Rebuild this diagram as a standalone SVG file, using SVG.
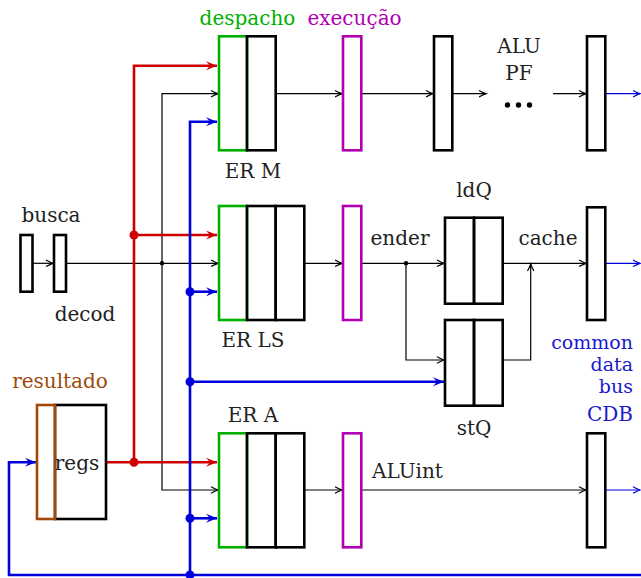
<svg xmlns="http://www.w3.org/2000/svg" width="641" height="578" viewBox="0 0 641 578">
<style>
text{font-family:"DejaVu Serif","Liberation Serif",serif;font-size:20px;fill:#222}
.c{text-anchor:middle}
.cdb{fill:#1a1acc;text-anchor:end;font-size:19px}
.box{fill:none;stroke:#000;stroke-width:2.6}
.g{fill:none;stroke:#00b000;stroke-width:2.6}
.m{fill:none;stroke:#b000b0;stroke-width:2.6}
.br{fill:none;stroke:#a04a0a;stroke-width:2.6}
.thin{fill:none;stroke:#000;stroke-width:1.2}
.red{fill:none;stroke:#d00000;stroke-width:2.6}
.blue{fill:none;stroke:#0000dd;stroke-width:2.6}
.bthin{fill:none;stroke:#0000dd;stroke-width:1.2}
</style>
<defs>
<marker id="ak" markerUnits="userSpaceOnUse" markerWidth="12" markerHeight="10" refX="0" refY="0" viewBox="-8 -5 10 10" orient="auto"><path d="M-7,-3.2 Q-2.5,-0.7 0,0 Q-2.5,0.7 -7,3.2" fill="none" stroke="#000" stroke-width="1.2"/></marker>
<marker id="ab" markerUnits="userSpaceOnUse" markerWidth="12" markerHeight="10" refX="0" refY="0" viewBox="-8 -5 10 10" orient="auto"><path d="M-7,-3.2 Q-2.5,-0.7 0,0 Q-2.5,0.7 -7,3.2" fill="none" stroke="#0000dd" stroke-width="1.2"/></marker>
<marker id="ar" markerUnits="userSpaceOnUse" markerWidth="14" markerHeight="12" refX="0" refY="0" viewBox="-12 -6 14 12" orient="auto"><path d="M0,0 L-11,-4.5 L-7,0 L-11,4.5 Z" fill="#d00000"/></marker>
<marker id="abl" markerUnits="userSpaceOnUse" markerWidth="14" markerHeight="12" refX="0" refY="0" viewBox="-12 -6 14 12" orient="auto"><path d="M0,0 L-11,-4.5 L-7,0 L-11,4.5 Z" fill="#0000dd"/></marker>
</defs>

<g id="connectors">
<path class="thin" d="M32,263.3 H53" marker-end="url(#ak)"/>
<path class="thin" d="M66,263.3 H218" marker-end="url(#ak)"/>
<path class="thin" d="M162,263.3 V93.7 H218" marker-end="url(#ak)"/>
<path class="thin" d="M162,263.3 V490 H218" marker-end="url(#ak)"/>
<path class="thin" d="M276,93.7 H342" marker-end="url(#ak)"/>
<path class="thin" d="M361,93.7 H433" marker-end="url(#ak)"/>
<path class="thin" d="M452,93.7 H486" marker-end="url(#ak)"/>
<path class="thin" d="M553,93.7 H586" marker-end="url(#ak)"/>
<path class="thin" d="M304,263.3 H342" marker-end="url(#ak)"/>
<path class="thin" d="M361,263.3 H444" marker-end="url(#ak)"/>
<path class="thin" d="M406,263.3 V360 H444" marker-end="url(#ak)"/>
<path class="thin" d="M503,360 H530.7 V264" marker-end="url(#ak)"/>
<path class="thin" d="M503,263.3 H586" marker-end="url(#ak)"/>
<path class="thin" d="M304,490 H342" marker-end="url(#ak)"/>
<path class="thin" d="M361,490 H586" marker-end="url(#ak)"/>
<circle cx="162" cy="263.3" r="2.2" fill="#000"/>
<circle cx="406" cy="263.3" r="2.2" fill="#000"/>
<path class="bthin" d="M605,93.7 H640" marker-end="url(#ab)"/>
<path class="bthin" d="M605,263.3 H640" marker-end="url(#ab)"/>
<path class="bthin" d="M605,490 H640" marker-end="url(#ab)"/>
<path class="red" d="M106,462.3 H217" marker-end="url(#ar)"/>
<path class="red" d="M134,462.3 V65.7 H217" marker-end="url(#ar)"/>
<path class="red" d="M134,235 H217" marker-end="url(#ar)"/>
<circle cx="134" cy="462.3" r="4.5" fill="#d00000"/>
<circle cx="134" cy="235" r="4.5" fill="#d00000"/>
<path class="blue" d="M641,575 H9 V462.3 H36" marker-end="url(#abl)"/>
<path class="blue" d="M190,575 V121.7 H217" marker-end="url(#abl)"/>
<path class="blue" d="M190,291.7 H217" marker-end="url(#abl)"/>
<path class="blue" d="M190,381.7 H444" marker-end="url(#abl)"/>
<path class="blue" d="M190,518.3 H217" marker-end="url(#abl)"/>
<circle cx="190" cy="291.7" r="4.5" fill="#0000dd"/>
<circle cx="190" cy="381.7" r="4.5" fill="#0000dd"/>
<circle cx="190" cy="518.3" r="4.5" fill="#0000dd"/>
<circle cx="190" cy="575" r="4.5" fill="#0000dd"/>
</g>

<g id="labels-top">
<text class="c" x="247.5" y="25" style="fill:#00b000">despacho</text>
<text class="c" x="354.5" y="25" style="fill:#b000b0">execução</text>
</g>

<g id="busca"><rect class="box" x="20.5" y="235" width="12" height="56.7"/><text class="c" x="51" y="222">busca</text></g>
<g id="decod"><rect class="box" x="54" y="235" width="12" height="56.7"/><text class="c" x="85" y="321">decod</text></g>

<g id="er-m">
<rect class="g" x="219" y="36.3" width="28" height="114"/>
<rect class="box" x="247" y="36.3" width="28.7" height="114"/>
<text class="c" x="253" y="178">ER M</text>
</g>
<g id="er-ls">
<rect class="g" x="219" y="206" width="28" height="114"/>
<rect class="box" x="247" y="206" width="28.7" height="114"/>
<rect class="box" x="275.7" y="206" width="28.6" height="114"/>
<text class="c" x="253" y="347">ER LS</text>
</g>
<g id="er-a">
<rect class="g" x="219" y="433.3" width="28" height="114"/>
<rect class="box" x="247" y="433.3" width="28.7" height="114"/>
<rect class="box" x="275.7" y="433.3" width="28.6" height="114"/>
<text class="c" x="253" y="422">ER A</text>
</g>

<g id="regs">
<rect class="box" x="55" y="405" width="51" height="114"/>
<rect class="br" x="37" y="405" width="18" height="114"/>
<text class="c" x="60" y="388" style="fill:#a04a0a">resultado</text>
<text class="c" x="77" y="470">regs</text>
</g>

<g id="exec-m"><rect class="m" x="343" y="36.3" width="18.3" height="114"/></g>
<g id="exec-ls"><rect class="m" x="343" y="206" width="18.3" height="114"/></g>
<g id="exec-a"><rect class="m" x="343" y="433.3" width="18.3" height="114"/></g>

<g id="alu-pf-in"><rect class="box" x="434" y="36.3" width="18.3" height="114"/></g>
<g id="alu-pf">
<text class="c" x="519" y="53">ALU</text>
<text class="c" x="519" y="80">PF</text>
<circle cx="507.5" cy="105" r="2.7" fill="#000"/>
<circle cx="518.5" cy="105" r="2.7" fill="#000"/>
<circle cx="529.5" cy="105" r="2.7" fill="#000"/>
</g>
<g id="out-m"><rect class="box" x="587" y="36.3" width="18.3" height="114"/></g>

<g id="ldq">
<rect class="box" x="445" y="217.7" width="29" height="86"/>
<rect class="box" x="474" y="217.7" width="28.7" height="86"/>
<text class="c" x="474" y="197">ldQ</text>
</g>
<g id="stq">
<rect class="box" x="445" y="320" width="29" height="85.7"/>
<rect class="box" x="474" y="320" width="28.7" height="85.7"/>
<text class="c" x="474" y="435">stQ</text>
</g>
<text class="c" x="400" y="245">ender</text>
<text class="c" x="548" y="245">cache</text>
<g id="out-ls"><rect class="box" x="587" y="207.3" width="18.3" height="112.7"/></g>

<g id="cdb-label">
<text class="cdb" x="633" y="349">common</text>
<text class="cdb" x="633" y="371">data</text>
<text class="cdb" x="633" y="393">bus</text>
<text class="cdb" x="633" y="421" style="font-size:20px">CDB</text>
</g>

<text x="372" y="478">ALUint</text>
<g id="out-a"><rect class="box" x="587" y="433.3" width="18.3" height="114"/></g>
</svg>
